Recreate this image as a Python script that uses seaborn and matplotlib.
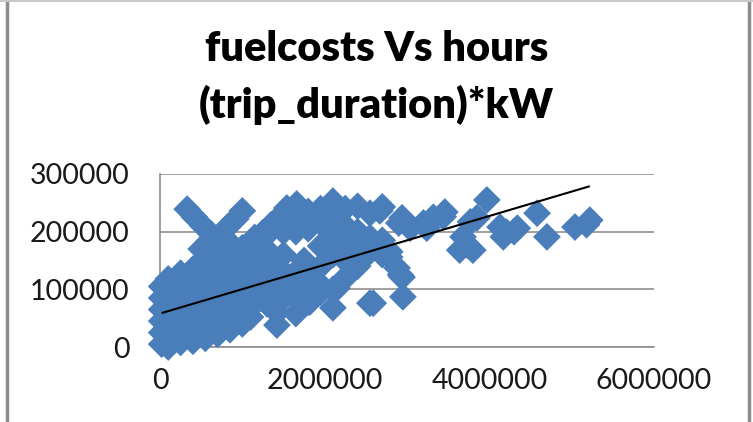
import matplotlib
matplotlib.use("Agg")
import matplotlib.pyplot as plt
from matplotlib.lines import Line2D
import seaborn as sns
import numpy as np
import pandas as pd

# ---- data ----
hours_kw = [
    # dense cluster near origin
    20000, 20000, 20000, 20000, 20000, 20000,
    100000, 100000, 100000, 100000, 100000, 100000, 100000,
    250000, 250000, 250000, 250000, 250000, 250000, 250000,
    400000, 400000, 400000, 400000, 400000, 400000, 400000,
    550000, 550000, 550000, 550000, 550000, 550000, 550000, 550000,
    700000, 700000, 700000, 700000, 700000, 700000, 700000, 700000,
    850000, 850000, 850000, 850000, 850000, 850000, 850000, 850000,
    1000000, 1000000, 1000000, 1000000, 1000000, 1000000, 1000000,
    1100000, 1150000, 1150000, 1150000, 1150000, 1150000, 1150000,
    1300000, 1300000, 1300000, 1300000, 1300000, 1300000,
    1420000, 1420000,
    1500000, 1500000, 1500000, 1500000, 1500000, 1500000,
    1650000, 1650000, 1650000, 1650000, 1650000, 1650000,
    1800000, 1800000, 1800000, 1800000, 1800000, 1750000,
    1950000, 1950000, 1950000, 1950000, 1950000, 1900000,
    2100000, 2100000, 2100000, 2100000, 2100000, 2100000,
    2250000, 2250000, 2250000, 2250000, 2250000,
    2400000, 2400000, 2400000, 2400000,
    2550000, 2550000, 2550000, 2550000,
    2700000, 2700000, 2700000,
    # upper "X" shaped groups
    330000, 420000, 520000, 620000, 720000,
    1000000, 920000, 820000, 600000, 500000,
    1540000, 1450000, 1350000, 1250000, 1660000, 1750000, 1850000, 1980000,
    # scattered points further right
    2940000, 3040000, 3200000, 3280000, 3440000, 3460000, 3320000, 3240000,
    3640000, 3730000, 3680000, 3800000, 3770000, 3850000, 3970000,
    4130000, 4210000, 4170000, 4300000, 4340000, 4580000, 4700000,
    5040000, 5220000, 5180000,
    2670000, 2790000, 2770000, 2940000, 2950000, 2590000, 2150000,
    1820000, 2370000, 2880000, 2920000, 2790000, 2900000,
]
fuel_costs = [
    5000, 25000, 45000, 65000, 85000, 105000,
    0, 20000, 40000, 60000, 80000, 100000, 118000,
    8000, 28000, 50000, 70000, 90000, 110000, 128000,
    10000, 30000, 50000, 72000, 92000, 112000, 135000,
    15000, 35000, 55000, 75000, 95000, 115000, 140000, 155000,
    22000, 40000, 60000, 80000, 100000, 120000, 145000, 165000,
    30000, 50000, 70000, 90000, 112000, 135000, 160000, 180000,
    40000, 60000, 82000, 105000, 128000, 150000, 172000,
    52000, 75000, 95000, 118000, 140000, 165000, 190000,
    75000, 95000, 120000, 145000, 168000, 195000,
    38000, 60000,
    85000, 110000, 130000, 160000, 200000, 220000,
    58000, 85000, 105000, 200000, 225000, 130000,
    78000, 100000, 125000, 205000, 235000, 150000,
    95000, 140000, 175000, 215000, 240000, 115000,
    68000, 100000, 160000, 190000, 225000, 253000,
    120000, 150000, 180000, 210000, 240000,
    140000, 175000, 200000, 244000,
    76000, 165000, 190000, 232000,
    160000, 185000, 243000,
    239000, 225000, 210000, 196000, 180000,
    236000, 222000, 208000, 184000, 170000,
    241000, 225000, 212000, 198000, 248000, 230000, 215000, 232000,
    224000, 206000, 215000, 217000, 226000, 234000, 225000, 206000,
    168000, 177000, 191000, 168000, 217000, 224000, 255000,
    208000, 199000, 191000, 200000, 206000, 232000, 191000,
    208000, 220000, 212000,
    236000, 156000, 168000, 121000, 87000, 76000, 102000,
    78000, 139000, 137000, 125000, 165000, 215000,
]

# linear trendline shown in the chart
trend_intercept = 58000
trend_slope = 0.0423

x_ticks = [0, 2000000, 4000000, 6000000]
y_ticks = [0, 100000, 200000, 300000]
title_text = "fuelcosts Vs hours\n(trip_duration)*kW"

df = pd.DataFrame({"hours_kw": hours_kw, "fuel_costs": fuel_costs})

sns.set_style("white")
plt.rcParams["font.family"] = ["Lato", "DejaVu Sans"]

fig = plt.figure(figsize=(7.53, 4.22), dpi=100)
ax = fig.add_axes([160 / 753, 1 - 347 / 422, 494 / 753, 173 / 422])

grid_col = "#868686"
ax.set_axisbelow(True)
ax.yaxis.grid(True, color=grid_col, linewidth=1.1)
ax.xaxis.grid(False)

sns.scatterplot(data=df, x="hours_kw", y="fuel_costs", marker="D", s=200,
                color="#4A7EBB", edgecolor="none", linewidth=0, ax=ax,
                zorder=3, legend=False)
for c in ax.collections:
    c.set_clip_on(False)

# trendline
tx = np.array([df["hours_kw"].min(), df["hours_kw"].max()])
ax.plot(tx, trend_intercept + trend_slope * tx, color="black", lw=1.5,
        zorder=4, solid_capstyle="butt")

ax.set_xlim(x_ticks[0], x_ticks[-1])
ax.set_ylim(y_ticks[0], y_ticks[-1])
ax.set_xticks(x_ticks)
ax.set_yticks(y_ticks)
ax.set_xticklabels([str(v) for v in x_ticks])
ax.set_yticklabels([str(v) for v in y_ticks])
ax.set_xlabel("")
ax.set_ylabel("")

for side in ["top", "right"]:
    ax.spines[side].set_visible(False)
for side in ["left", "bottom"]:
    ax.spines[side].set_color(grid_col)
    ax.spines[side].set_linewidth(1.1)

ax.tick_params(axis="both", direction="out", length=8, width=1.1,
               color=grid_col, labelsize=20.5, labelcolor="#1a1a1a")
ax.tick_params(axis="y", pad=14)
ax.tick_params(axis="x", pad=7)

fig.text(0.5, 1 - 30 / 422, title_text, ha="center", va="top",
         fontsize=30, fontweight="heavy", linespacing=1.5, color="black")

# chart frame
fig.add_artist(Line2D([7 / 753, 7 / 753], [0, 1], color="#8c8c8c", lw=2.5,
                      transform=fig.transFigure))
fig.add_artist(Line2D([749 / 753, 749 / 753], [0, 1], color="#8c8c8c", lw=2.5,
                      transform=fig.transFigure))
fig.add_artist(Line2D([0, 1], [1 - 1 / 422, 1 - 1 / 422], color="#c8c8c8",
                      lw=1.5, transform=fig.transFigure))

fig.savefig("out.png", dpi=100)
